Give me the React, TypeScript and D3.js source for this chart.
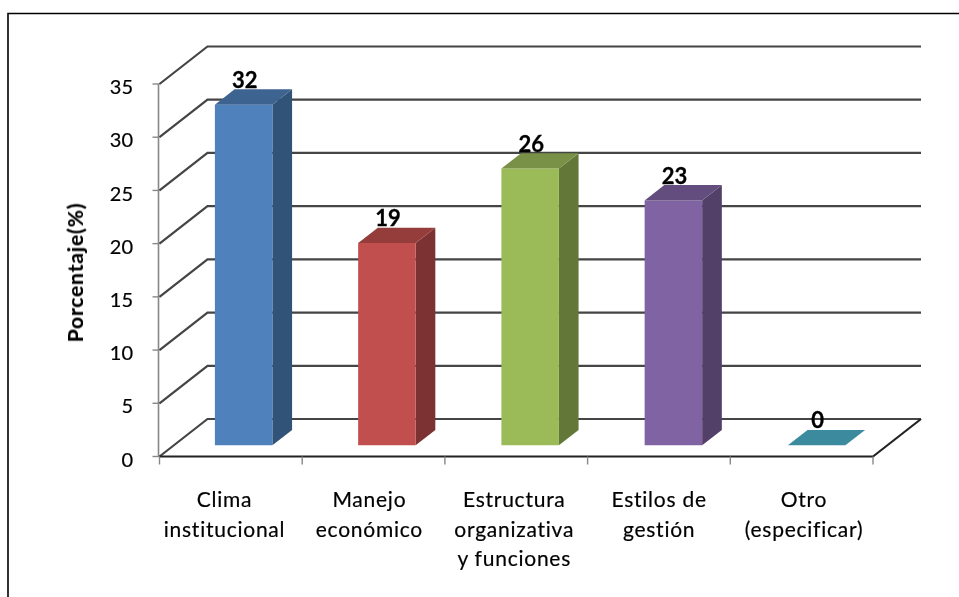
import React from "react";
import * as d3 from "d3";

const categories: string[][] = [["Clima", "institucional"], ["Manejo", "económico"], ["Estructura", "organizativa", "y funciones"], ["Estilos de", "gestión"], ["Otro", "(especificar)"]];
const values = [32, 19, 26, 23, 0];
const yTicks = [0, 5, 10, 15, 20, 25, 30, 35];
const colors = ["#4f81bd", "#c0504d", "#9bbb59", "#8064a2", "#3b8a9e"];
const topColors = ["#3d6491", "#953e3b", "#799147", "#634e7e", "#3b8a9e"];
const sideColors = ["#315378", "#7b3331", "#647839", "#523f68", "#3b8a9e"];

const x = d3.scaleBand<number>().domain(d3.range(5)).range([159.5, 873]);
const barX = d3.scaleLinear().domain([0, 4]).range([200.5, 773.5]);
const labelX = d3.scaleLinear().domain([0, 4]).range([224.5, 804]);
const y = d3.scaleLinear().domain([0, 35]).range([456.5, 84]);
const dx = 48, dy = 37.5;
const P = (px: number, v: number, t: number): [number, number] => [px + dx * t, y(v) - dy * t];
const poly = (pts: [number, number][]) => pts.map(p => p.join(",")).join(" ");
const font = "Lato, Carlito, sans-serif";

export default function App() {
  const bw = 57.5;
  const z0 = 0.3, z1 = 0.71;
  return (
    <svg width={959} height={597} style={{ position: "absolute", left: 0, top: 0 }} fontFamily={font}>
      <defs><filter id="b" x="-5%" y="-5%" width="110%" height="110%"><feGaussianBlur stdDeviation="0.5" /></filter></defs>
      <rect x={0} y={0} width={959} height={597} fill="#fff" />
      <polyline points="8,597 8,13.5 959,13.5" fill="none" stroke="#000" strokeWidth={1.6} />
      <g filter="url(#b)">
        <line x1={158.5} x2={158.5} y1={y(0)} y2={y(35)} stroke="#888" strokeWidth={1.6} />
        {yTicks.map(t => {
          const a = P(x.range()[0], t, 0), b = P(x.range()[0], t, 1), c = P(x.range()[1], t, 1);
          return (
            <g key={t}>
              <line x1={a[0] - 7} x2={a[0]} y1={a[1]} y2={a[1]} stroke="#888" strokeWidth={1.4} />
              <polyline points={poly([a, b, c])} fill="none" stroke="#444" strokeWidth={2.2} />
              <text x={133} y={a[1] + 3} dy="0.36em" textAnchor="end" fontSize={20} fill="#000" stroke="#000" strokeWidth={0.2}>{t}</text>
            </g>
          );
        })}
        <polyline points={poly([P(x.range()[0], 0, 0), P(x.range()[1], 0, 0), P(x.range()[1], 0, 1)])} fill="none" stroke="#222" strokeWidth={2.2} />
        {d3.range(6).map(i => {
          const px = x.range()[0] + x.step() * i;
          return <line key={i} x1={px} x2={px} y1={y(0)} y2={y(0) + 8} stroke="#888" strokeWidth={1.4} />;
        })}
        {values.map((v, i) => {
          const l = barX(i);
          const r = l + bw;
          return (
            <g key={i}>
              {v > 0 && <polygon points={poly([P(r, 0, z0), P(r, 0, z1), P(r, v, z1), P(r, v, z0)])} fill={sideColors[i]} />}
              {v > 0 && <polygon points={poly([P(l, 0, z0), P(r, 0, z0), P(r, v, z0), P(l, v, z0)])} fill={colors[i]} />}
              <polygon points={poly([P(l, v, z0), P(r, v, z0), P(r, v, z1), P(l, v, z1)])} fill={topColors[i]} />
            </g>
          );
        })}
        {values.map((v, i) => {
          const c = barX(i) + bw / 2 + dx * z0 + 1;
          const p = P(barX(i), v, z1);
          return <text key={i} x={c} y={p[1] - 1.5} textAnchor="middle" fontSize={22} fontWeight={700} fill="#000" stroke="#000" strokeWidth={0.3}>{v}</text>;
        })}
        {categories.map((lines, i) => (
          <text key={i} textAnchor="middle" fontSize={21} fill="#000" stroke="#000" strokeWidth={0.2} letterSpacing={0.75}>
            {lines.map((s, j) => <tspan key={j} x={labelX(i)} y={507 + j * 29.7}>{s}</tspan>)}
          </text>
        ))}
        <text transform="translate(83,272.5) rotate(-90)" textAnchor="middle" fontSize={21} fontWeight={700} fill="#000" stroke="#000" strokeWidth={0.2} letterSpacing={0.85}>Porcentaje(%)</text>
      </g>
    </svg>
  );
}
